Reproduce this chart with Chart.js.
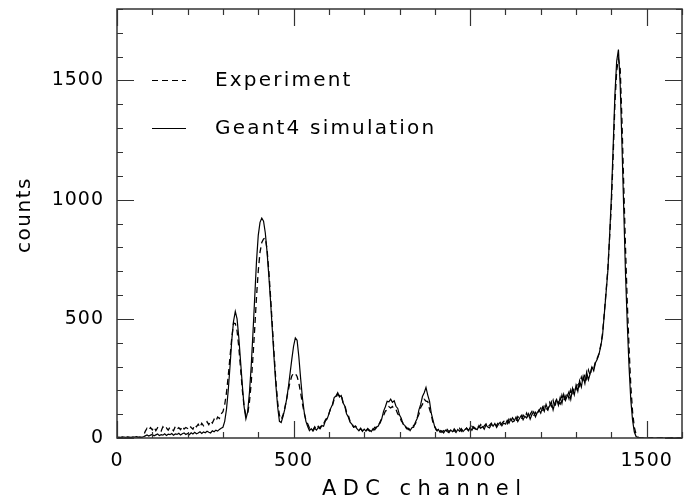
<!DOCTYPE html>
<html>
<head>
<meta charset="utf-8">
<title>ADC spectrum</title>
<script src="https://cdn.jsdelivr.net/npm/chart.js@4.4.1/dist/chart.umd.min.js"></script>
<style>
  html, body { margin: 0; padding: 0; background: #fff; }
  #wrap { width: 695px; height: 501px; }
</style>
</head>
<body>
<div id="wrap"><canvas id="chart" width="695" height="501"></canvas></div>
<script>
// histogram bins are 5 ADC channels wide, starting at channel 0
var binWidth = 5;

// measured spectrum (dashed), one row per 100 channels
var expCounts = [
  0, 1, 0, 2, 1, 0, 2, 1, 0, 1, 2, 1, 0, 1, 2, 8, 28, 41, 33, 44,
  34, 46, 31, 43, 38, 29, 47, 36, 42, 33, 45, 39, 30, 48, 37, 43, 35, 49, 38, 44,
  40, 52, 44, 37, 55, 47, 58, 45, 62, 51, 57, 68, 56, 72, 63, 79, 70, 88, 82, 101,
  110, 140, 190, 260, 340, 420, 482, 480, 450, 380, 290, 200, 130, 95, 100, 150, 230, 340, 460, 590,
  700, 780, 820, 835, 839, 790, 700, 590, 470, 350, 240, 150, 95, 78, 95, 125, 160, 200, 235, 260,
  272, 270, 258, 230, 190, 145, 105, 75, 60, 42, 46, 34, 47, 36, 49, 42, 58, 60, 75, 86,
  102, 124, 136, 163, 170, 184, 177, 182, 150, 139, 108, 95, 71, 63, 46, 50, 44, 33, 38, 30,
  39, 31, 36, 29, 40, 33, 45, 43, 57, 63, 82, 94, 113, 117, 131, 126, 132, 121, 120, 101,
  92, 72, 63, 47, 45, 35, 39, 40, 53, 59, 83, 99, 128, 141, 162, 155, 153, 121, 98, 62,
  48, 33, 26, 35, 24, 31, 22, 36, 27, 33, 25, 38, 29, 34, 41, 28, 37, 31, 42, 33,
  36, 49, 41, 38, 53, 44, 56, 40, 51, 59, 45, 54, 62, 48, 57, 52, 67, 55, 61, 70,
  72, 60, 79, 68, 85, 74, 66, 90, 81, 77, 96, 86, 104, 82, 99, 111, 92, 108, 97, 115,
  126, 110, 138, 125, 117, 149, 133, 158, 128, 166, 150, 142, 180, 156, 172, 190, 165, 201, 178, 215,
  205, 236, 218, 255, 232, 270, 248, 285, 262, 300, 290, 322, 335, 355, 390, 440, 525, 615, 710, 840,
  980, 1180, 1400, 1540, 1590, 1550, 1330, 1060, 800, 570, 380, 220, 110, 45, 15, 4, 1, 0, 0, 1,
  0, 0, 0, 1, 0, 0, 0, 0, 1, 0, 0, 0, 0, 0, 1, 0, 0, 0, 0, 0,
  0
];

// Geant4 simulation (solid)
var simCounts = [
  2, 4, 3, 5, 4, 3, 5, 4, 3, 5, 4, 6, 4, 5, 3, 5, 9, 13, 8, 12,
  15, 9, 13, 17, 10, 14, 12, 18, 11, 16, 14, 19, 12, 17, 15, 20, 13, 18, 21, 15,
  19, 14, 22, 17, 24, 18, 21, 26, 19, 25, 22, 28, 24, 21, 30, 26, 33, 29, 36, 41,
  45, 70, 120, 200, 300, 410, 490, 531, 500, 420, 320, 220, 130, 80, 110, 190, 300, 440, 590, 740,
  850, 905, 923, 910, 860, 780, 680, 570, 450, 330, 220, 130, 70, 65, 90, 120, 160, 210, 270, 330,
  385, 420, 410, 340, 250, 170, 110, 70, 48, 31, 39, 29, 41, 33, 44, 38, 52, 49, 71, 80,
  100, 124, 140, 170, 176, 190, 172, 178, 148, 134, 102, 88, 66, 58, 45, 49, 38, 30, 41, 28,
  37, 29, 40, 33, 27, 39, 34, 46, 50, 68, 82, 113, 131, 154, 152, 163, 150, 156, 133, 124,
  96, 83, 58, 53, 39, 41, 31, 43, 45, 66, 82, 118, 141, 174, 190, 212, 180, 155, 104, 74,
  45, 31, 36, 24, 30, 21, 33, 27, 22, 34, 26, 31, 23, 36, 28, 39, 27, 35, 41, 30,
  44, 32, 47, 39, 35, 52, 41, 48, 37, 55, 46, 42, 58, 49, 61, 44, 57, 66, 51, 63,
  58, 74, 62, 80, 67, 71, 88, 69, 83, 95, 76, 91, 84, 102, 79, 98, 110, 89, 106, 118,
  104, 130, 112, 141, 120, 135, 152, 118, 147, 162, 137, 170, 145, 183, 158, 176, 194, 162, 208, 181,
  222, 196, 240, 214, 258, 229, 276, 244, 270, 298, 282, 316, 330, 352, 385, 430, 520, 610, 700, 850,
  1010, 1220, 1440, 1580, 1630, 1480, 1230, 960, 690, 480, 300, 160, 75, 25, 6, 2, 1, 0, 1, 0,
  0, 0, 1, 0, 0, 0, 1, 0, 0, 0, 0, 1, 0, 0, 0, 0, 0, 1, 0, 0,
  0
];

var seriesNames = ['Experiment', 'Geant4 simulation'];
var xTickLabels = [0, 500, 1000, 1500];
var yTickLabels = [0, 500, 1000, 1500];
var xRange = [0, 1600];
var yRange = [0, 1800];
var minorStep = 100;
var xTitle = 'ADC channel';
var yTitle = 'counts';

function points(counts) {
  return counts.map(function(c, i) { return { x: i * binWidth, y: c }; });
}

var fontFamily = '"DejaVu Sans", "Liberation Sans", sans-serif';
var ink = '#000';

// frame with inward ticks on all four sides, axis titles and legend
var framePlugin = {
  id: 'frame',
  beforeDraw: function(chart) {
    chart.ctx.letterSpacing = '1px';
  },
  afterDraw: function(chart) {
    var ctx = chart.ctx, a = chart.chartArea;
    var xs = chart.scales.x, ys = chart.scales.y;
    var major = 17, minor = 6;

    ctx.save();
    ctx.strokeStyle = '#333';
    ctx.lineWidth = 1.5;
    ctx.strokeRect(a.left, a.top, a.right - a.left, a.bottom - a.top);

    ctx.beginPath();
    for (var v = xRange[0]; v <= xRange[1]; v += minorStep) {
      var px = Math.round(xs.getPixelForValue(v)) + 0.5;
      var len = xTickLabels.indexOf(v) >= 0 ? major : minor;
      ctx.moveTo(px, a.bottom); ctx.lineTo(px, a.bottom - len);
      ctx.moveTo(px, a.top); ctx.lineTo(px, a.top + len);
    }
    for (var w = yRange[0]; w <= yRange[1]; w += minorStep) {
      var py = Math.round(ys.getPixelForValue(w)) + 0.5;
      var l2 = yTickLabels.indexOf(w) >= 0 ? major : minor;
      ctx.moveTo(a.left, py); ctx.lineTo(a.left + l2, py);
      ctx.moveTo(a.right, py); ctx.lineTo(a.right - l2, py);
    }
    ctx.lineWidth = 1.2;
    ctx.stroke();

    // axis titles
    ctx.fillStyle = ink;
    ctx.textBaseline = 'middle';
    ctx.textAlign = 'left';
    ctx.font = '21px ' + fontFamily;
    ctx.letterSpacing = '6.4px';
    ctx.fillText(xTitle, 322, 490);

    ctx.save();
    ctx.translate(25, 215);
    ctx.rotate(-Math.PI / 2);
    ctx.textAlign = 'center';
    ctx.font = '20px ' + fontFamily;
    ctx.letterSpacing = '1.5px';
    ctx.fillText(yTitle, 0, 0);
    ctx.restore();

    // legend
    ctx.font = '20px ' + fontFamily;
    ctx.letterSpacing = '2.2px';
    chart.data.datasets.forEach(function(ds, i) {
      var y = 80 + i * 48 + 0.5;
      ctx.beginPath();
      ctx.setLineDash(ds.borderDash || []);
      ctx.strokeStyle = ink;
      ctx.lineWidth = 1;
      ctx.moveTo(152, y);
      ctx.lineTo(186, y);
      ctx.stroke();
      ctx.setLineDash([]);
      ctx.fillText(ds.label, 215, y);
    });
    ctx.restore();
  }
};

var chart = new Chart(document.getElementById('chart'), {
  type: 'line',
  data: {
    datasets: [
      {
        label: seriesNames[0],
        data: points(expCounts),
        borderColor: ink,
        borderWidth: 1.3,
        borderDash: [6, 4],
        pointRadius: 0,
        tension: 0,
        fill: false
      },
      {
        label: seriesNames[1],
        data: points(simCounts),
        borderColor: ink,
        borderWidth: 1.2,
        pointRadius: 0,
        tension: 0,
        fill: false
      }
    ]
  },
  options: {
    responsive: false,
    animation: false,
    events: [],
    layout: { padding: { top: 9, right: 13, left: 0, bottom: 0 } },
    plugins: {
      legend: { display: false },
      tooltip: { enabled: false }
    },
    scales: {
      x: {
        type: 'linear',
        min: xRange[0],
        max: xRange[1],
        afterBuildTicks: function(s) { s.ticks = xTickLabels.map(function(v) { return { value: v }; }); },
        afterFit: function(s) { s.height = 63; s.paddingLeft = 0; s.paddingRight = 0; },
        grid: { display: false, drawTicks: false },
        border: { display: false },
        ticks: {
          autoSkip: false,
          maxRotation: 0,
          padding: 12,
          color: ink,
          font: { family: fontFamily, size: 19 },
          callback: function(v) { return String(v); }
        }
      },
      y: {
        type: 'linear',
        min: yRange[0],
        max: yRange[1],
        afterBuildTicks: function(s) { s.ticks = yTickLabels.map(function(v) { return { value: v }; }); },
        afterFit: function(s) { s.width = 117; s.paddingTop = 0; s.paddingBottom = 0; },
        grid: { display: false, drawTicks: false },
        border: { display: false },
        ticks: {
          autoSkip: false,
          padding: 13,
          color: ink,
          font: { family: fontFamily, size: 19 },
          callback: function(v) { return String(v); }
        }
      }
    }
  },
  plugins: [framePlugin]
});
</script>
</body>
</html>
